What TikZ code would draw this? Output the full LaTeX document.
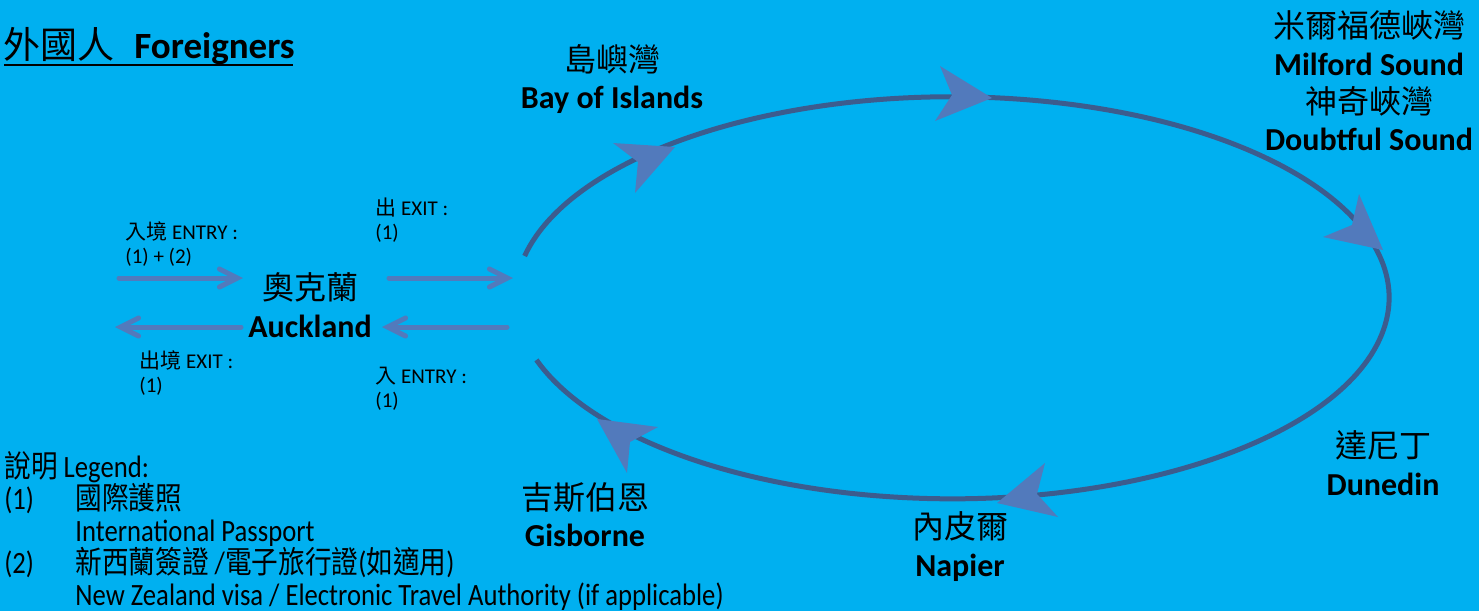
\documentclass[tikz,border=0pt]{standalone}
\usepackage{fontspec}
\setmainfont{Carlito}
\newfontfamily\cjk{Noto Sans CJK TC}
\newfontfamily\legendfont[FakeStretch=0.86]{Carlito}
\newfontfamily\legendcjk[FakeStretch=0.86]{Noto Sans CJK TC}
\usetikzlibrary{arrows.meta}

\definecolor{skybg}{HTML}{00B0F0}
\definecolor{ringline}{RGB}{60,92,142}
\definecolor{tipblue}{RGB}{82,122,188}

\tikzset{
  place/.style={align=center, inner sep=0pt, font=\fontsize{16}{18.8}\selectfont},
  pass/.style={align=left, anchor=west, inner sep=0pt, font=\fontsize{10.5}{12}\selectfont},
  flow/.style={tipblue, line width=2.5pt, line cap=round,
    -{Straight Barb[length=9pt,width=9pt,line cap=round]}},
  ring/.style={ringline, line width=2.5pt},
}

\begin{document}
\begin{tikzpicture}[x=0.5pt, y=-0.5pt]
            % background
            \fill[skybg] (0,0) rectangle (1479,611);
            \useasboundingbox (0,0) rectangle (1479,611);
%
            % title
            \node[anchor=west, inner sep=0pt, font=\fontsize{18.5}{20}\selectfont] (title) at (3,46)
              {{\cjk 外國人}\hspace{10pt}\textbf{Foreigners}};
            \draw[line width=1pt] (4,65) -- (293,65);
%
            % the loop
            \coordinate (ringstart) at (524.6,256);
            \draw[ring] (ringstart) arc[start angle=192, end angle=522, x radius=437, y radius=201];
            \fill[tipblue] (675,147) -- (613,143) -- (638,162) -- (635,193) -- cycle;
            \fill[tipblue] (992,98) -- (940,66) -- (952,95) -- (935,121) -- cycle;
            \fill[tipblue] (1383,250) -- (1359,194) -- (1352,225) -- (1323,237) -- cycle;
            \fill[tipblue] (997,503) -- (1045,463) -- (1037,494) -- (1058,517) -- cycle;
            \fill[tipblue] (597,419) -- (658,427) -- (630,442) -- (627,473) -- cycle;
%
            % places
            \node[place] (akl) at (310,305) {{\cjk 奧克蘭}\\\textbf{Auckland}};
            \node[place] (bay) at (612,79) {{\cjk 島嶼灣}\\\textbf{Bay of Islands}};
            \node[place] (sounds) at (1369,81)
              {{\cjk 米爾福德峽灣}\\\textbf{Milford Sound}\\{\cjk 神奇峽灣}\\\textbf{Doubtful Sound}};
            \node[place] (dunedin) at (1383,463) {{\cjk 達尼丁}\\\textbf{Dunedin}};
            \node[place] (napier) at (960,546.5) {{\cjk 內皮爾}\\\textbf{Napier}};
            \node[place] (gisborne) at (585,514.5) {{\cjk 吉斯伯恩}\\\textbf{Gisborne}};
%
            % entry and exit
            \coordinate (inA) at (119,278);
            \coordinate (inB) at (243,278);
            \coordinate (outA) at (241,327);
            \coordinate (outB) at (115,327);
            \coordinate (goA) at (389,278);
            \coordinate (goB) at (513,278);
            \coordinate (backA) at (507,327);
            \coordinate (backB) at (382,327);
            \draw[flow] (inA) -- (inB);
            \draw[flow] (outA) -- (outB);
            \draw[flow] (goA) -- (goB);
            \draw[flow] (backA) -- (backB);
            \node[pass] (entryin) at (125,244) {{\cjk 入境} ENTRY :\\(1) + (2)};
            \node[pass] (exitout) at (139,373) {{\cjk 出境} EXIT :\\(1)};
            \node[pass] (exitring) at (375,220) {{\cjk 出} EXIT :\\(1)};
            \node[pass] (entryring) at (375,389) {{\cjk 入} ENTRY :\\(1)};
%
            % legend
            \node[anchor=west, align=left, inner sep=0pt,
                  font=\legendfont\fontsize{15.5}{16}\selectfont] (legend) at (4,531.5)
              {{\legendcjk 說明} Legend:\\
               \makebox[35.5pt][l]{(1)}{\legendcjk 國際護照}\\
               \hspace*{35.5pt}International Passport\\
               \makebox[35.5pt][l]{(2)}{\legendcjk 新西蘭簽證} /{\legendcjk 電子旅行證}({\legendcjk 如適用})\\
               \hspace*{35.5pt}New Zealand visa / Electronic Travel Authority (if applicable)};
        \end{tikzpicture}
\end{document}
